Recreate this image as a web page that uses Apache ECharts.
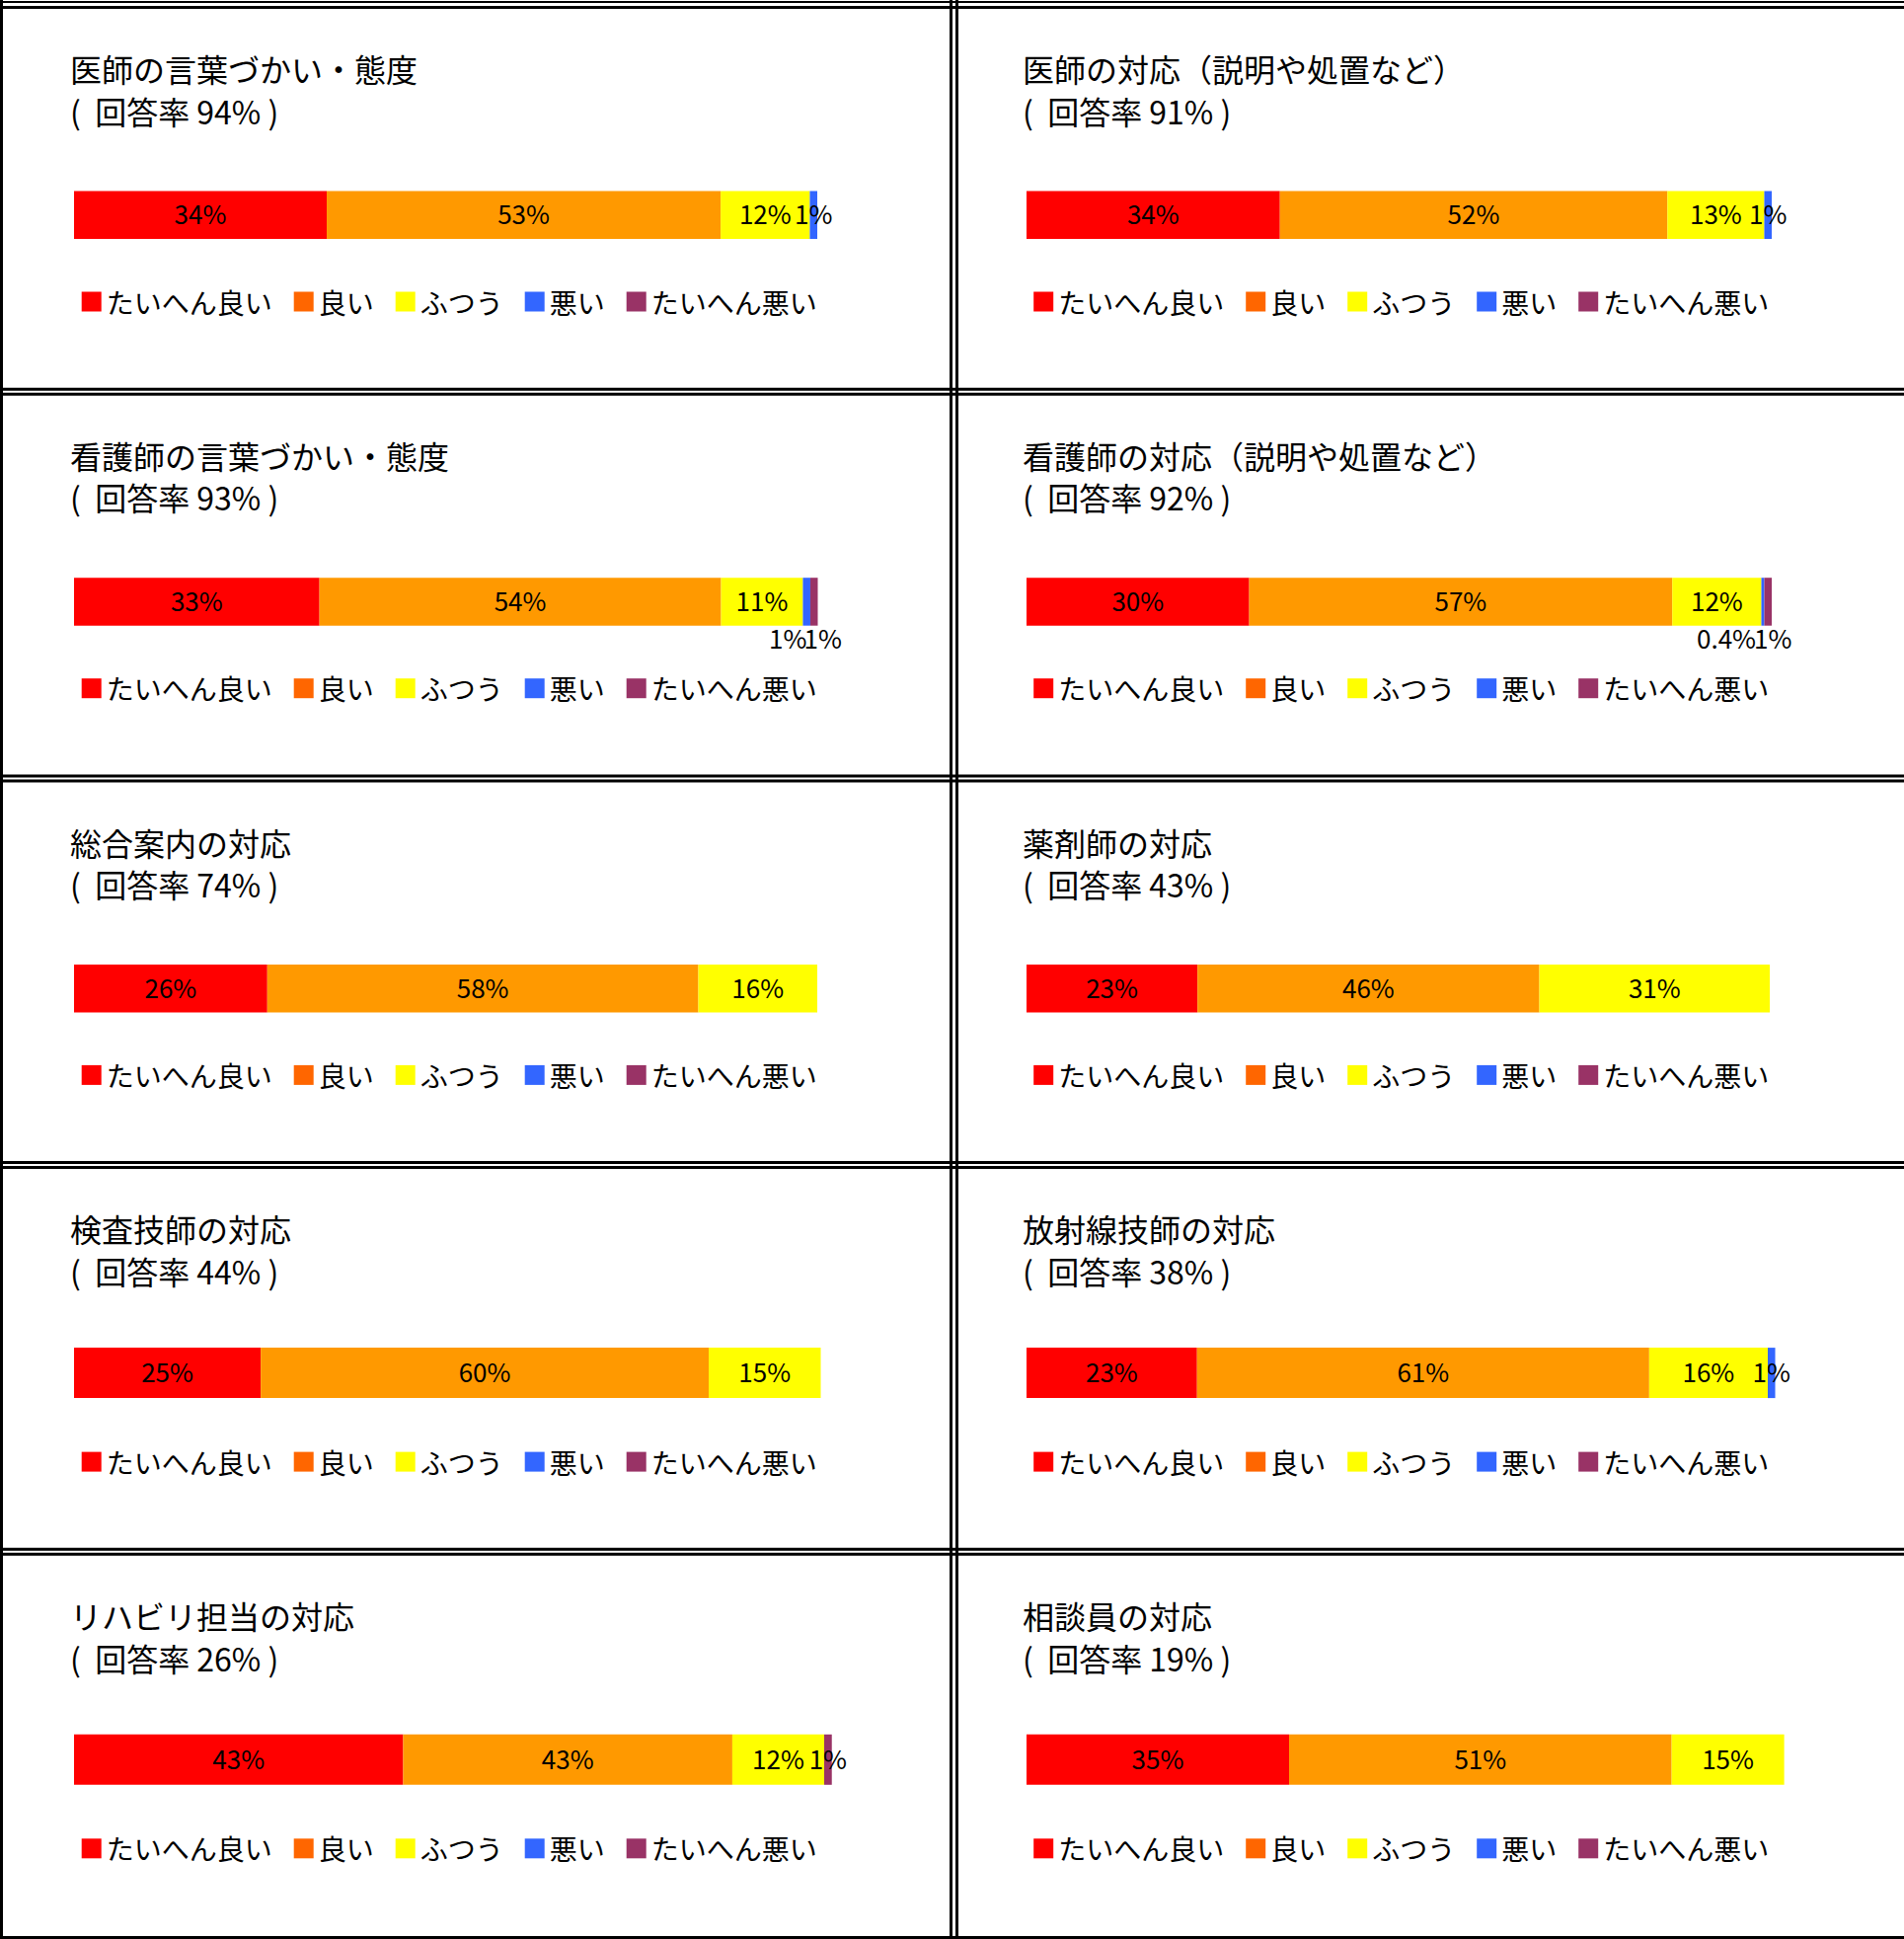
<!DOCTYPE html>
<html>
<head>
<meta charset="utf-8">
<script src="https://cdn.jsdelivr.net/npm/echarts@6/dist/echarts.min.js"></script>
<style>
html,body{margin:0;padding:0;background:#fff;}
#chart{width:1929px;height:1964px;}
</style>
</head>
<body>
<div id="chart"></div>
<script>
// ---- data ----
const titles = [
  '医師の言葉づかい・態度',
  '医師の対応（説明や処置など）',
  '看護師の言葉づかい・態度',
  '看護師の対応（説明や処置など）',
  '総合案内の対応',
  '薬剤師の対応',
  '検査技師の対応',
  '放射線技師の対応',
  'リハビリ担当の対応',
  '相談員の対応'
];
const responseRates = [94, 91, 93, 92, 74, 43, 44, 38, 26, 19];
const categories = ['たいへん良い', '良い', 'ふつう', '悪い', 'たいへん悪い'];
const veryGood = [34, 34, 33, 30, 26, 23, 25, 23, 43, 35];
const good     = [53, 52, 54, 57, 58, 46, 60, 61, 43, 51];
const fair     = [12, 13, 11, 12, 16, 31, 15, 16, 12, 15];
const bad      = [1, 1, 1, 0.4, 0, 0, 0, 1, 0, 0];
const veryBad  = [0, 0, 1, 1, 0, 0, 0, 0, 1, 0];
const seriesValues = [veryGood, good, fair, bad, veryBad];

// ---- styles / layout ----
const FONT = '"Noto Sans CJK JP", "Noto Sans", sans-serif';
const barColors = ['#FF0000', '#FF9900', '#FFFF00', '#3366FF', '#993366'];
const legendColors = ['#FF0000', '#FF6600', '#FFFF00', '#3366FF', '#993366'];
const rowTop = r => 6 + r * 391.7;
const colBarLeft = [75, 1040];
const colTitleLeft = [71, 1036];
const colLegendLeft = [82.7, 1047.2];
const rowBarTop = [187.5, 187.5, 187.5, 184, 184];
const rowBarH = [48.5, 48.5, 48.5, 51, 51];
const gridW = [753, 755, 753.5, 752, 753, 753, 756.5, 751, 775.5, 760];
// labels drawn under the bar (panel -> category index -> x offset)
const belowLabels = {2: {3: -19, 4: 9}, 3: {3: -37, 4: 5}};

const chart = echarts.init(document.getElementById('chart'), null, {renderer: 'svg'});

const grids = [], xAxes = [], yAxes = [], series = [], legends = [], titleComps = [];
titles.forEach((t, p) => {
  const r = Math.floor(p / 2), c = p % 2;
  const top = rowTop(r);
  grids.push({left: colBarLeft[c], top: top + rowBarTop[r], width: gridW[p], height: rowBarH[r], containLabel: false});
  xAxes.push({gridIndex: p, type: 'value', min: 0, max: 100, show: false});
  yAxes.push({gridIndex: p, type: 'category', data: [''], show: false});
  titleComps.push({
    text: t + '\n(  回答率 ' + responseRates[p] + '% )',
    left: colTitleLeft[c], top: top + 42, padding: 0,
    textStyle: {fontSize: 32, fontWeight: 'normal', color: '#000', lineHeight: 42.5, fontFamily: FONT}
  });
  legends.push({
    left: colLegendLeft[c], top: top + 285.5, padding: 0,
    itemWidth: 20, itemHeight: 20, itemGap: 22, selectedMode: false,
    textStyle: {fontSize: 28, color: '#000', fontFamily: FONT},
    data: categories.map((name, k) => ({name, icon: 'rect', itemStyle: {color: legendColors[k]}}))
  });
  categories.forEach((name, k) => {
    const v = seriesValues[k][p];
    const below = belowLabels[p] && belowLabels[p][k] !== undefined;
    series.push({
      type: 'bar', name, stack: 's' + p, xAxisIndex: p, yAxisIndex: p,
      barWidth: '100%', clip: false, silent: true,
      itemStyle: {color: barColors[k]},
      emphasis: {disabled: true},
      label: {
        show: v > 0,
        position: below ? 'bottom' : 'inside',
        distance: 0,
        offset: below ? [belowLabels[p][k], -1] : [0, -2],
        formatter: '{c}%',
        color: '#000', fontSize: 26, fontFamily: FONT
      },
      data: [v]
    });
  });
});

// frame lines (double borders)
const graphics = [];
const vLines = [0, 962, 968];
vLines.forEach(x => graphics.push({type: 'rect', shape: {x, y: 0, width: 3, height: 1964}, style: {fill: '#000'}}));
const hLines = [1];
for (let r = 0; r < 5; r++) {
  hLines.push(rowTop(r));
  hLines.push(r < 4 ? rowTop(r + 1) - 5 : 1961);
}
hLines.forEach(y => graphics.push({type: 'rect', shape: {x: 0, y, width: 1929, height: y === 1 ? 2 : 3}, style: {fill: '#000'}}));

chart.setOption({
  animation: false,
  backgroundColor: '#fff',
  title: titleComps,
  legend: legends,
  grid: grids,
  xAxis: xAxes,
  yAxis: yAxes,
  series,
  graphic: graphics
});
</script>
</body>
</html>
